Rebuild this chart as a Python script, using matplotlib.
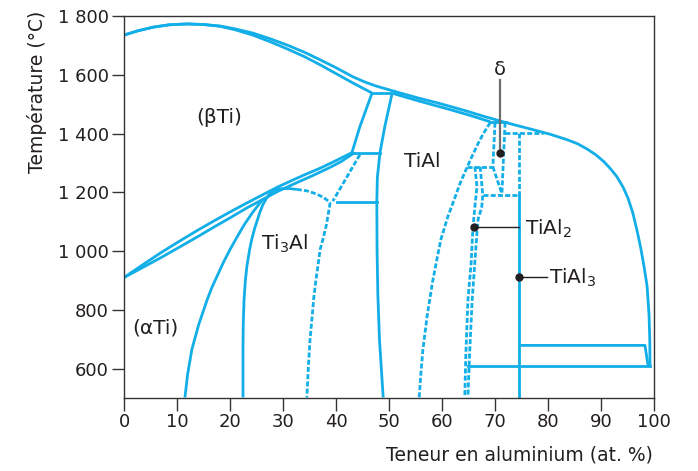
import matplotlib.pyplot as plt

blue = '#12aee8'
ink = '#231f20'
dash = (0, (1.8, 0.8))

# --- liquidus / solidus (at.% Al, degC) ---
liq_ti_x = [0, 2.5, 5.5, 8.5, 11.9, 15, 18.1, 21, 24.3, 27.5, 30.8, 34, 37.0, 40, 43.2, 45.5, 47.5, 50, 52.1]
liq_ti_t = [1735, 1749, 1762, 1770, 1773, 1771, 1766, 1756, 1742, 1723, 1701, 1677, 1651, 1624, 1593, 1575, 1562, 1549, 1538]
sol_beta_x = [0, 2.5, 5.5, 8.5, 11.9, 15, 18.1, 21, 24.3, 27.5, 30.8, 34, 37.0, 40, 43.2, 45, 46.8]
sol_beta_t = [1735, 1749, 1762, 1770, 1773, 1771, 1765, 1753, 1735, 1713, 1688, 1662, 1634, 1604, 1572, 1555, 1538]
liq_al_x = [52.1, 55.5, 59.0, 62, 64.7, 67.8, 70.9, 74, 77.2, 80.5, 83.6, 85.6, 87.4, 89.0, 90.5, 91.8,
            93.0, 94.15, 95.1, 96.0, 96.8, 97.5, 98.1, 98.7, 99.06, 99.2, 99.25]
liq_al_t = [1538, 1521, 1505, 1490, 1476, 1459, 1443, 1428, 1413, 1397, 1379, 1365, 1347, 1328, 1305, 1280,
            1253, 1218, 1180, 1130, 1070, 1010, 950, 880, 784, 700, 608]
sol_tial_x = [51.0, 55, 59.0, 62, 64.7, 67, 69.1]
sol_tial_t = [1535, 1514, 1494, 1479, 1465, 1452, 1440]

# --- alpha transus lines ---
beta_tr_x = [0, 3.5, 7, 10.5, 14, 17, 20, 23, 26.2, 29, 32, 34.5, 37, 40, 43.0]
beta_tr_t = [910, 953, 995, 1034, 1072, 1103, 1133, 1162, 1192, 1218, 1243, 1263, 1282, 1308, 1335]
alpha_tr_x = [0, 3.5, 7, 10.5, 14, 17, 20, 23, 26.2, 29, 32, 35.5, 38.9, 41, 43.5]
alpha_tr_t = [910, 944, 978, 1014, 1050, 1082, 1113, 1145, 1176, 1203, 1228, 1256, 1285, 1305, 1335]

# --- alpha / alpha2 ---
alpha_x = [26.2, 25.7, 24.2, 22.7, 21.3, 20.0, 18.8, 17.7, 16.6, 15.7, 14.1, 12.8, 12.0, 11.5]
alpha_t = [1176, 1165, 1130, 1090, 1047, 1005, 963, 920, 877, 835, 750, 665, 580, 502]
ti3al_left_x = [26.9, 26.2, 25.6, 24.7, 24.1, 23.7, 23.2, 22.9, 22.65, 22.5, 22.45, 22.45]
ti3al_left_t = [1180, 1158, 1130, 1080, 1040, 1005, 950, 900, 835, 750, 665, 502]
dome_x = [26.9, 27.5, 28.3, 29.5, 31.0, 32.6]
dome_t = [1180, 1196, 1206, 1212, 1213, 1210]
dome_dash_x = [32.6, 34.5, 36.2, 37.7, 38.9]
dome_dash_t = [1210, 1205, 1195, 1182, 1165]
ti3al_right_x = [38.9, 38.2, 37.6, 37.0, 36.6, 36.2, 35.8, 35.5, 35.1, 34.8, 34.5]
ti3al_right_t = [1165, 1090, 1045, 1005, 950, 900, 840, 777, 700, 610, 502]
ab_dash_x = [44.5, 39.4]
ab_dash_t = [1328, 1170]

# --- TiAl field ---
box_left_x = [46.8, 44.5, 43.0]
box_left_t = [1538, 1423, 1335]
tial_left_x = [50.6, 49.2, 48.3, 47.8, 47.7, 47.75, 47.9, 48.2, 48.9]
tial_left_t = [1538, 1423, 1335, 1250, 1168, 1000, 850, 700, 502]
tial_right_x = [69.1, 67.8, 66.7, 65.6, 64.6, 63.4, 62.4, 61.1, 59.8, 58.9, 58.2, 57.2, 56.4, 56.0, 55.7]
tial_right_t = [1437, 1400, 1362, 1320, 1280, 1230, 1180, 1117, 1040, 960, 893, 780, 665, 580, 502]

# --- TiAl2 boundaries ---
tial2_a_x = [66.2, 66.6, 66.2, 65.85, 65.5, 64.9, 64.5, 64.3]
tial2_a_t = [1287, 1219, 1150, 1083, 960, 835, 650, 506]
tial2_b_x = [67.2, 67.7, 67.5, 66.8, 66.6, 65.7, 65.2, 64.9]
tial2_b_t = [1287, 1190, 1150, 1107, 1063, 835, 650, 506]

# --- delta region ---
delta_left_x = [70.0, 69.6]
delta_left_t = [1437, 1287]
delta_diag_x = [69.6, 71.3]
delta_diag_t = [1287, 1195]
delta_right_x = [71.9, 71.3]
delta_right_t = [1437, 1195]

# --- TiAl3 ---
tial3_x = 74.5
tial3_top = 1192
tial3_dash_top = 1403

# isotherms: (T, x start, x end)
iso_solid = [(1538, 46.8, 52.1), (1335, 43.0, 48.3), (1168, 40.2, 47.7),
             (1440, 69.1, 72.0), (608, 64.9, 99.25)]
iso_dash = [(1287, 64.7, 69.6), (1403, 71.9, 79.1), (1192, 67.7, 74.5)]
eut_x = [74.5, 98.3, 98.9]
eut_t = [679, 679, 608]

fig = plt.figure(figsize=(6.98, 4.71), dpi=100)
ax = fig.add_axes([124 / 698, 1 - 398 / 471, 530 / 698, 382 / 471])

solid_lines = [(liq_ti_x, liq_ti_t), (sol_beta_x, sol_beta_t), (liq_al_x, liq_al_t),
               (sol_tial_x, sol_tial_t), (beta_tr_x, beta_tr_t), (alpha_tr_x, alpha_tr_t),
               (alpha_x, alpha_t), (ti3al_left_x, ti3al_left_t), (dome_x, dome_t),
               (box_left_x, box_left_t), (tial_left_x, tial_left_t), (eut_x, eut_t)]
dashed_lines = [(dome_dash_x, dome_dash_t), (ti3al_right_x, ti3al_right_t), (ab_dash_x, ab_dash_t),
                (tial_right_x, tial_right_t), (tial2_a_x, tial2_a_t), (tial2_b_x, tial2_b_t),
                (delta_left_x, delta_left_t), (delta_diag_x, delta_diag_t),
                (delta_right_x, delta_right_t)]

for xs, ts in solid_lines:
    ax.plot(xs, ts, color=blue, lw=2, solid_joinstyle='round', solid_capstyle='butt')
for xs, ts in dashed_lines:
    ax.plot(xs, ts, color=blue, lw=2, linestyle=dash)
for t, x0, x1 in iso_solid:
    ax.plot([x0, x1], [t, t], color=blue, lw=2)
for t, x0, x1 in iso_dash:
    ax.plot([x0, x1], [t, t], color=blue, lw=2, linestyle=dash)
ax.plot([tial3_x, tial3_x], [tial3_top, 502], color=blue, lw=2)
ax.plot([tial3_x, tial3_x], [tial3_dash_top, tial3_top], color=blue, lw=2, linestyle=dash)

# pointers
ax.plot([70.9, 70.9], [1583, 1333], color='#6d6e71', lw=1.6)
ax.plot(70.9, 1333, 'o', color=ink, ms=5)
ax.text(70.9, 1617, 'δ', color=ink, fontsize=14, ha='center', va='center')
ax.plot([66.0, 74.5], [1083, 1083], color=ink, lw=1)
ax.plot(66.0, 1083, 'o', color=ink, ms=5)
ax.text(75.6, 1056, 'TiAl$_2$', color=ink, fontsize=14.5, ha='left', va='baseline')
ax.plot([74.5, 79.8], [913, 913], color=ink, lw=1)
ax.plot(74.5, 913, 'o', color=ink, ms=5)
ax.text(80.2, 890, 'TiAl$_3$', color=ink, fontsize=14.5, ha='left', va='baseline')

# phase labels
ax.text(18.0, 1437, '(βTi)', color=ink, fontsize=14.5, ha='center', va='baseline')
ax.text(56.2, 1287, 'TiAl', color=ink, fontsize=14.5, ha='center', va='baseline')
ax.text(30.2, 1005, 'Ti$_3$Al', color=ink, fontsize=14.5, ha='center', va='baseline')
ax.text(5.85, 720, '(αTi)', color=ink, fontsize=14.5, ha='center', va='baseline')

ax.set_xlim(0, 100)
ax.set_ylim(500, 1800)
ax.set_xticks(range(0, 101, 10))
ax.set_yticks(range(600, 1801, 200))
ax.set_yticklabels(['600', '800', '1 000', '1 200', '1 400', '1 600', '1 800'])
ax.tick_params(direction='out', length=9, width=1, color='#333333',
               labelsize=13, labelcolor=ink, pad=2)
for s in ax.spines.values():
    s.set_color('#333333')
    s.set_linewidth(1)

fig.text(37 / 698, 1 - 92 / 471, 'Température (°C)', rotation=90, fontsize=13.5,
         color=ink, ha='center', va='center')
fig.text(519 / 698, 1 - 455 / 471, 'Teneur en aluminium (at. %)', fontsize=13.5,
         color=ink, ha='center', va='center')

plt.savefig('out.png', dpi=100)
